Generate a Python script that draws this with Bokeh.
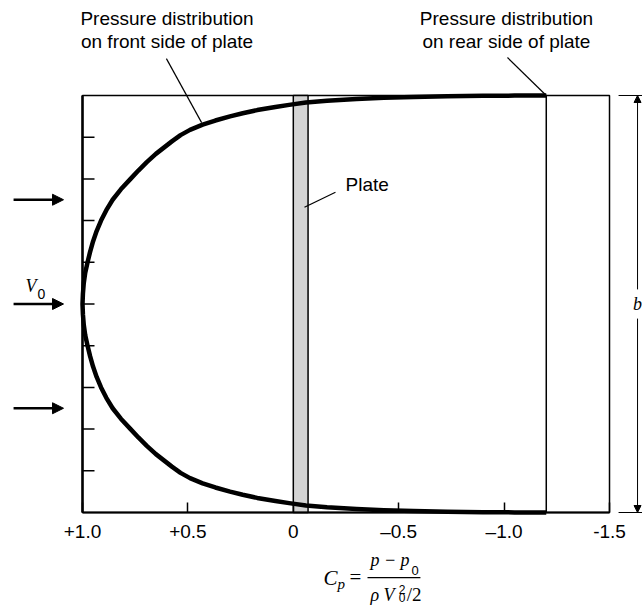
from bokeh.plotting import figure
from bokeh.models import Range1d, FixedTicker, Arrow, NormalHead, LinearAxis
from bokeh.core.properties import value
from bokeh.embed import file_html
from bokeh.resources import INLINE

# ---------------- data ----------------
cp_ticks = [1.0, 0.5, 0.0, -0.5, -1.0, -1.5]
cp_tick_labels = ["+1.0", "+0.5", "0", "\u20130.5", "\u20131.0", "-1.5"]
span_ticks = [-0.8, -0.6, -0.4, -0.2, 0.0, 0.2, 0.4, 0.6, 0.8]

# front-side pressure distribution: eta = position across plate / (b/2), Cp
eta_front = [-1.0, -0.9995, -0.9985, -0.9965, -0.993, -0.989, -0.983, -0.975, -0.966,
             -0.955, -0.945, -0.93, -0.915, -0.90, -0.88, -0.86, -0.835, -0.81, -0.78,
             -0.75, -0.72, -0.68, -0.64, -0.60, -0.55, -0.50, -0.45, -0.40, -0.35,
             -0.30, -0.25, -0.20, -0.15, -0.10, -0.05, 0.0,
             0.05, 0.10, 0.15, 0.20, 0.25, 0.30, 0.35, 0.40, 0.45, 0.50, 0.55,
             0.60, 0.64, 0.68, 0.72, 0.75, 0.78, 0.81, 0.835, 0.86, 0.88, 0.90,
             0.915, 0.93, 0.945, 0.955, 0.966, 0.975, 0.983, 0.989, 0.993, 0.9965,
             0.9985, 0.9995, 1.0]
cp_front = [-1.2, -1.05, -0.90, -0.73, -0.57, -0.43, -0.30, -0.16, -0.06,
            0.02, 0.085, 0.171, 0.24, 0.30, 0.37, 0.43, 0.49, 0.535, 0.576,
            0.614, 0.652, 0.695, 0.735, 0.772, 0.818, 0.857, 0.887, 0.912, 0.933,
            0.950, 0.964, 0.976, 0.987, 0.994, 0.998, 1.0,
            0.998, 0.994, 0.987, 0.976, 0.964, 0.950, 0.933, 0.912, 0.887, 0.857, 0.818,
            0.772, 0.735, 0.695, 0.652, 0.614, 0.576, 0.535, 0.49, 0.43, 0.37, 0.30,
            0.24, 0.171, 0.085, 0.02, -0.06, -0.16, -0.30, -0.43, -0.57, -0.73,
            -0.90, -1.05, -1.2]

cp_rear = -1.2
plate_left = 0.0
plate_right = -0.07
flow_eta = [0.5, 0.0, -0.5]
cp_min, cp_max = -1.5, 1.0
eta_min, eta_max = -1.0, 1.0

SANS = "Liberation Sans"
SERIF = "Liberation Serif"

# ---------------- figure ----------------
p = figure(width=642, height=609, x_range=Range1d(1.389, -1.6565),
           y_range=Range1d(-1.4652, 1.4556),
           output_backend="svg", toolbar_location=None, title=None,
           x_axis_location=None, y_axis_location=None,
           min_border_left=0, min_border_right=0, min_border_top=0, min_border_bottom=0)
p.background_fill_color = "white"
p.border_fill_color = "white"
p.outline_line_color = None
p.xgrid.visible = False
p.ygrid.visible = False

xa = LinearAxis(fixed_location=eta_min, bounds=(cp_min, cp_max),
                ticker=FixedTicker(ticks=cp_ticks))
xa.major_label_overrides = {t: l for t, l in zip(cp_ticks, cp_tick_labels)}
xa.major_tick_in = 10
xa.major_tick_out = 0
xa.minor_tick_line_color = None
xa.axis_line_width = 2
xa.major_tick_line_width = 1.5
xa.major_label_standoff = 8
xa.major_label_text_font = SANS
xa.major_label_text_font_size = "19px"
xa.major_label_text_color = "black"
p.add_layout(xa, "below")

# chart box
p.quad(left=[cp_max], right=[cp_min], top=[eta_max], bottom=[eta_min],
       fill_color=None, line_color="black", line_width=1.5)
# left edge (thicker) with inward span ticks (no labels)
p.segment(x0=[cp_max], y0=[eta_min], x1=[cp_max], y1=[eta_max], line_color="black", line_width=2.5)
tick_len = 12 / 210.8
p.segment(x0=[cp_max] * len(span_ticks), y0=span_ticks,
          x1=[cp_max - tick_len] * len(span_ticks), y1=span_ticks,
          line_color="black", line_width=1.5)
# plate
p.quad(left=[plate_left], right=[plate_right], top=[eta_max], bottom=[eta_min],
       fill_color="#d4d4d4", line_color="black", line_width=1.5)
# rear side pressure (constant)
p.segment(x0=[cp_rear], y0=[eta_min], x1=[cp_rear], y1=[eta_max],
          line_color="black", line_width=1.5)
# front side pressure distribution
p.line(cp_front, eta_front, line_color="black", line_width=4.5, line_join="round")

# ---------------- annotations ----------------
def lab(x, y, text, font=SANS, size="19px", style="normal", align="left", base="middle"):
    p.text(x=[x], y=[y], text=[text], text_font=value(font), text_font_size=value(size),
           text_font_style=value(style), text_align=value(align),
           text_baseline=value(base), text_color="black")

def seg(x0, y0, x1, y1, w=1.2):
    p.add_layout(Arrow(end=None, x_start=x0, y_start=y0, x_end=x1, y_end=y1,
                       line_color="black", line_width=w))

lab(0.599, 1.369, "Pressure distribution", align="center")
lab(0.599, 1.259, "on front side of plate", align="center")
seg(0.602, 1.177, 0.435, 0.870)

lab(-1.011, 1.369, "Pressure distribution", align="center")
lab(-1.011, 1.259, "on rear side of plate", align="center")
seg(-1.016, 1.182, -1.200, 1.0)

lab(-0.248, 0.573, "Plate")
seg(-0.053, 0.464, -0.200, 0.536)

# incoming flow arrows
for e in flow_eta:
    p.add_layout(Arrow(x_start=1.327, y_start=e, x_end=1.090, y_end=e, line_width=2.5,
                       line_color="black",
                       end=NormalHead(size=11, fill_color="black", line_color="black", line_width=1)))
lab(1.270, 0.084, "V", font=SERIF, size="18px", style="italic")
lab(1.213, 0.050, "0", font=SANS, size="14px")

# dimension b
seg(-1.543, 1.0, -1.66, 1.0, w=1)
seg(-1.543, -1.0, -1.66, -1.0, w=1)
p.add_layout(Arrow(x_start=-1.633, y_start=0.07, x_end=-1.633, y_end=1.0, line_width=1,
                   line_color="black",
                   end=NormalHead(size=7, fill_color="black", line_color="black", line_width=1)))
p.add_layout(Arrow(x_start=-1.633, y_start=-0.07, x_end=-1.633, y_end=-1.0, line_width=1,
                   line_color="black",
                   end=NormalHead(size=7, fill_color="black", line_color="black", line_width=1)))
lab(-1.633, 0.0, "b", font=SERIF, size="18px", style="italic", align="center")

# axis formula  Cp = (p - p0) / (rho V0^2 / 2)
lab(-0.143, -1.312, "C", font=SERIF, size="21px", style="italic")
lab(-0.210, -1.345, "p", font=SERIF, size="15px", style="italic")
lab(-0.267, -1.307, "=", font=SERIF, size="21px")
lab(-0.366, -1.230, "p \u2212 p", font=SERIF, size="18px", style="italic")
lab(-0.561, -1.278, "0", font=SANS, size="13px")
seg(-0.352, -1.312, -0.603, -1.312, w=1.2)
lab(-0.366, -1.396, "\u03c1 V", font=SERIF, size="18px", style="italic")
lab(-0.500, -1.367, "2", font=SANS, size="12px")
lab(-0.500, -1.408, "0", font=SANS, size="12px")
lab(-0.538, -1.393, "/2", font=SERIF, size="19px")

open("out.html", "w").write(file_html(p, INLINE))
